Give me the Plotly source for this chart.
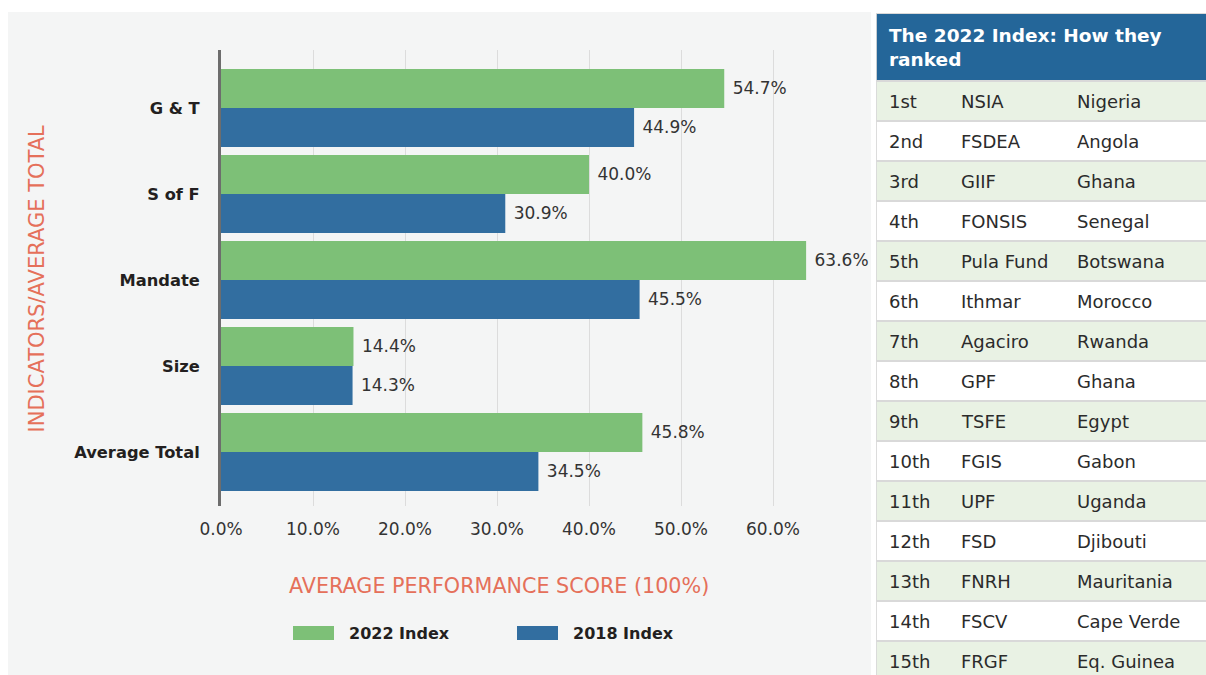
import plotly.graph_objects as go

# ---------------- data ----------------
categories = ["G & T", "S of F", "Mandate", "Size", "Average Total"]
index_2022 = [54.7, 40.0, 63.6, 14.4, 45.8]
index_2018 = [44.9, 30.9, 45.5, 14.3, 34.5]
x_tick_vals = [0, 10, 20, 30, 40, 50, 60]
x_tick_text = ["0.0%", "10.0%", "20.0%", "30.0%", "40.0%", "50.0%", "60.0%"]
series_names = ["2022 Index", "2018 Index"]

table_title = "The 2022 Index: How they<br>ranked"
ranks = ["1st", "2nd", "3rd", "4th", "5th", "6th", "7th", "8th", "9th", "10th",
         "11th", "12th", "13th", "14th", "15th"]
funds = ["NSIA", "FSDEA", "GIIF", "FONSIS", "Pula Fund", "Ithmar", "Agaciro", "GPF",
         "TSFE", "FGIS", "UPF", "FSD", "FNRH", "FSCV", "FRGF"]
countries = ["Nigeria", "Angola", "Ghana", "Senegal", "Botswana", "Morocco", "Rwanda",
             "Ghana", "Egypt", "Gabon", "Uganda", "Djibouti", "Mauritania", "Cape Verde",
             "Eq. Guinea"]

# ---------------- style ----------------
W, H = 1206, 675
GREEN = "#7dc077"
BLUE = "#326ea0"
HEAD_BLUE = "#246699"
ROW_GREEN = "#e9f2e4"
CORAL = "#e5705a"
PANEL = "#f4f5f5"
FONT = "DejaVu Sans"
DARK = "#231f20"
TEXT = "#333333"


def fx(p):
    return p / W


def fy(p):
    return 1 - p / H


fig = go.Figure()

for name, vals, col in [(series_names[0], index_2022, GREEN), (series_names[1], index_2018, BLUE)]:
    fig.add_trace(go.Bar(
        name=name, y=categories, x=vals, orientation="h",
        marker=dict(color=col, line=dict(width=0)),
        texttemplate="\u00a0%{x:.1f}%", textposition="outside",
        textfont=dict(family=FONT, size=17, color=TEXT),
        constraintext="none", cliponaxis=False, hoverinfo="skip",
        showlegend=False, xaxis="x", yaxis="y",
    ))

# table background rows (header + 15 rows) on a second pair of axes
n = len(ranks)
row_y = [-0.85] + [i + 0.5 for i in range(n)]
row_w = [1.7] + [1] * n
row_c = [HEAD_BLUE] + [ROW_GREEN if i % 2 == 0 else "#ffffff" for i in range(n)]
fig.add_trace(go.Bar(
    y=row_y, x=[345] * (n + 1), base=0, width=row_w, orientation="h",
    marker=dict(color=row_c, line=dict(color="#d9d9d9", width=1.8)),
    hoverinfo="skip", showlegend=False, xaxis="x2", yaxis="y2",
))

annotations = []
col_x = [11, 83, 199]
for i in range(n):
    for cx, val in zip(col_x, [ranks[i], funds[i], countries[i]]):
        annotations.append(dict(
            x=cx, y=i + 0.5, xref="x2", yref="y2", text=val, showarrow=False,
            xanchor="left", yanchor="middle",
            font=dict(family=FONT, size=18, color="#2b2b2b")))
annotations.append(dict(
    x=11, y=-0.85, xref="x2", yref="y2", text="<b>" + table_title + "</b>",
    showarrow=False, xanchor="left", yanchor="middle", align="left",
    font=dict(family=FONT, size=18.5, color="#ffffff")))

# axis titles
annotations.append(dict(
    x=fx(499), y=fy(586), xref="paper", yref="paper",
    text="AVERAGE PERFORMANCE SCORE (100%)", showarrow=False,
    xanchor="center", yanchor="middle",
    font=dict(family=FONT, size=20.7, color=CORAL)))
annotations.append(dict(
    x=fx(36.5), y=fy(279), xref="paper", yref="paper",
    text="INDICATORS/AVERAGE TOTAL", showarrow=False, textangle=-90,
    xanchor="center", yanchor="middle",
    font=dict(family=FONT, size=21, color=CORAL)))

# custom legend
shapes = [dict(type="rect", xref="paper", yref="paper", x0=fx(8), x1=fx(871),
               y0=-0.05, y1=fy(12), fillcolor=PANEL, line=dict(width=0), layer="below")]
legend_items = [(series_names[0], GREEN, 293), (series_names[1], BLUE, 517)]
for name, col, lx in legend_items:
    shapes.append(dict(type="rect", xref="paper", yref="paper",
                       x0=fx(lx), x1=fx(lx + 41), y0=fy(640), y1=fy(626),
                       fillcolor=col, line=dict(width=0), layer="above"))
    annotations.append(dict(
        x=fx(lx + 54), y=fy(633), xref="paper", yref="paper", text="<b>" + name + "</b>",
        showarrow=False, xanchor="left", yanchor="middle",
        font=dict(family=FONT, size=16, color=DARK)))

fig.update_layout(
    width=W, height=H, autosize=False,
    margin=dict(l=0, r=0, t=0, b=0, pad=0, autoexpand=False),
    paper_bgcolor="#ffffff",
    plot_bgcolor="rgba(0,0,0,0)",
    barmode="group", bargap=0.093, bargroupgap=0,
    showlegend=False,
    shapes=shapes,
    annotations=annotations,
    xaxis=dict(
        domain=[fx(221), fx(221 + 69 * 9.2)], range=[0, 69],
        tickvals=x_tick_vals, ticktext=x_tick_text,
        tickfont=dict(family=FONT, size=17, color=TEXT),
        showgrid=True, gridcolor="#dcdcdc", gridwidth=1,
        zeroline=False, showline=False, ticks="", ticklabelstandoff=11,
        fixedrange=True, automargin=False,
    ),
    yaxis=dict(
        domain=[fy(506), fy(50)], range=[4.628, -0.674],
        type="category", categoryorder="array", categoryarray=categories,
        tickfont=dict(family=FONT, size=16.3, color=DARK, weight="bold"),
        showgrid=False, zeroline=False, showline=True, linecolor="#6d6d6d",
        linewidth=3, ticks="", ticklabelstandoff=15, fixedrange=True,
        automargin=False,
    ),
    xaxis2=dict(domain=[fx(876), 1], range=[0, 330], visible=False, fixedrange=True,
                anchor="y2", automargin=False),
    yaxis2=dict(domain=[0, fy(13)], range=[14.85, -1.7], visible=False, fixedrange=True,
                anchor="x2", automargin=False),
)

fig.write_html(
    "out.html",
    config={"responsive": False, "displayModeBar": False},
    post_script="document.body.style.margin='0';document.body.style.overflow='hidden';",
)
